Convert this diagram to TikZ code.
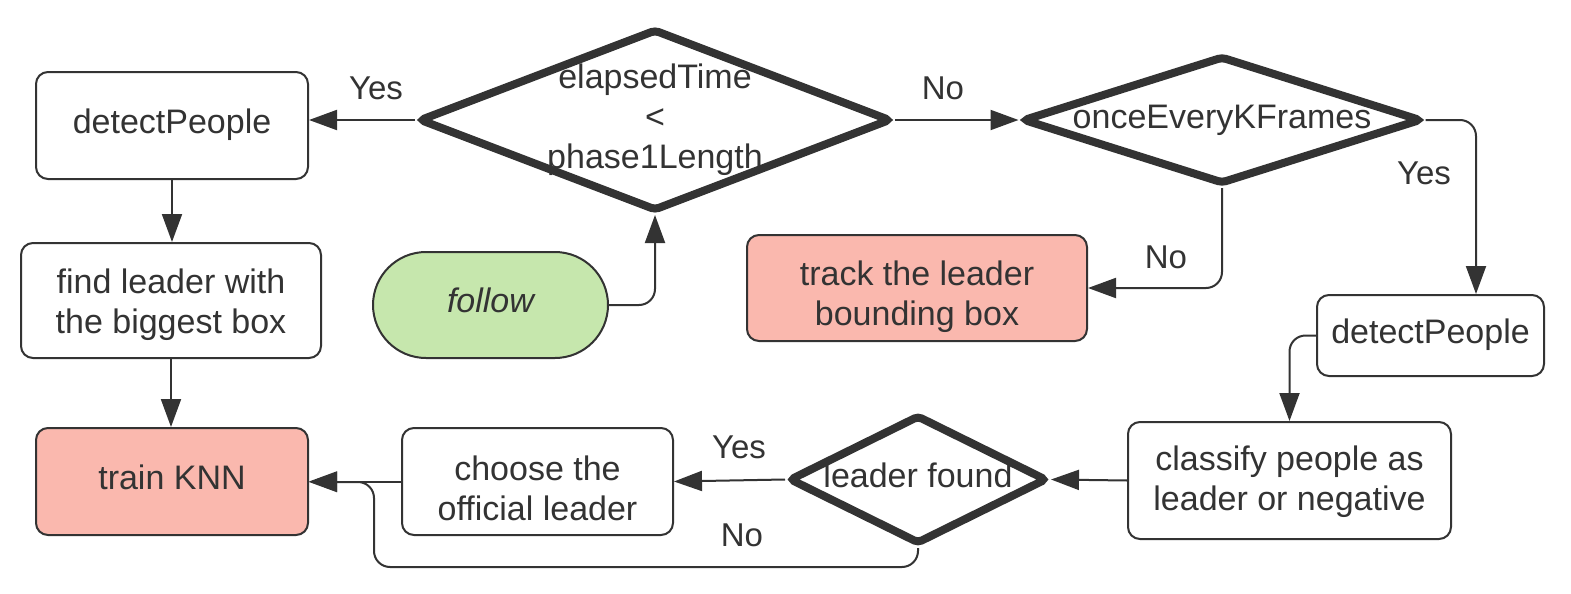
\documentclass[tikz,border=0pt]{standalone}
\usepackage{fontspec}
\setmainfont{Liberation Sans}
\usetikzlibrary{shapes.geometric,arrows.meta}
\definecolor{ink}{HTML}{333333}
\definecolor{pinkfill}{HTML}{FAB8AE}
\definecolor{greenfill}{HTML}{C6E7AD}
\tikzset{
  txt/.style={font=\fontsize{17}{20}\selectfont, text=ink, align=center},
  lbl/.style={font=\fontsize{16.5}{20}\selectfont, text=ink, inner sep=0pt},
  box/.style={txt, draw=ink, line width=1pt, rounded corners=6pt, inner sep=0pt, text height=12pt, text depth=4.5pt},
  twoline/.style={text height=40pt-#1, text depth=#1},
  dia/.style={diamond, draw=ink, line width=4pt, rounded corners=2pt, inner sep=0pt, fill=white},
  conn/.style={draw=ink, line width=1pt, rounded corners=8pt, -{Triangle[length=14pt,width=10pt]}},
}
\begin{document}
\begin{tikzpicture}[x=0.5pt,y=-0.5pt]
\useasboundingbox[fill=white] (0,0) rectangle (1571,594);
% nodes
\node[box, minimum width=136pt, minimum height=53.5pt] (dp1) at (172,125.5) {detectPeople};
\node[box, twoline=3.5pt, minimum width=150pt, minimum height=57.5pt] (find) at (171,300.5) {find leader with\\the biggest box};
\node[box, fill=pinkfill, minimum width=136pt, minimum height=53.5pt] (knn) at (172,481.5) {train KNN};
\node[box, twoline=0.75pt, minimum width=135.5pt, minimum height=53.5pt] (choose) at (537.5,481.5) {choose the\\official leader};
\node[box, twoline=5.25pt, minimum width=161.5pt, minimum height=58.5pt] (classify) at (1289.5,480.5) {classify people as\\leader or negative};
\node[box, text height=12.5pt, text depth=4.5pt, minimum width=113.5pt, minimum height=40.5pt] (dp2) at (1430.5,335.5) {detectPeople};
\node[box, twoline=1.5pt, fill=pinkfill, minimum width=170pt, minimum height=53pt] (track) at (917,288) {track the leader\\bounding box};
\node[box, fill=greenfill, rounded corners=26.5pt, minimum width=117.5pt, minimum height=53pt] (follow) at (490.5,305) {\itshape follow};
\node[dia, minimum width=236pt, minimum height=91pt] (d1) at (655,120) {};
\node[txt] (d1t) at (d1.center) {elapsedTime\\<\\phase1Length};
\node[dia, minimum width=199.5pt, minimum height=64pt] (d2) at (1222,120) {};
\node[txt] (d2t) at (d2.center) {onceEveryKFrames};
\node[dia, minimum width=129pt, minimum height=64.5pt] (d3) at (918,479.5) {};
\node[txt, yshift=2pt] (d3t) at (d3.center) {leader found};
% helper coordinates
\coordinate (yesdown) at (1476,120);
\coordinate (loopbl) at (374,567);
\coordinate (loopup) at (374,482);
% connectors
\draw[conn] (d1.west) -- (d1.west -| dp1.east);
\draw[conn] (d1.east) -- (d2.west);
\draw[conn] (dp1.south) -- (dp1.south |- find.north);
\draw[conn] (find.south) -- (find.south |- knn.north);
\draw[conn] (follow.east) -| (d1.south);
\draw[conn] (d2.east) -- (yesdown) -- (yesdown |- dp2.north);
\draw[conn] (d2.south) |- (track.east);
\draw[conn] (dp2.west) -| (classify.north);
\draw[conn] (classify.west) -- (d3.east);
\draw[conn] (d3.west) -- (choose.east);
\draw[conn] (choose.west) -- (choose.west -| knn.east);
\draw[conn] (d3.south) |- (loopbl) -- (loopup) -- (knn.east |- loopup);
% labels
\node[lbl] (l1) at (376,88) {Yes};
\node[lbl] (l2) at (943,88) {No};
\node[lbl] (l3) at (1424,173) {Yes};
\node[lbl] (l4) at (1166,257) {No};
\node[lbl] (l5) at (739,447) {Yes};
\node[lbl] (l6) at (742,535) {No};
\end{tikzpicture}
\end{document}
